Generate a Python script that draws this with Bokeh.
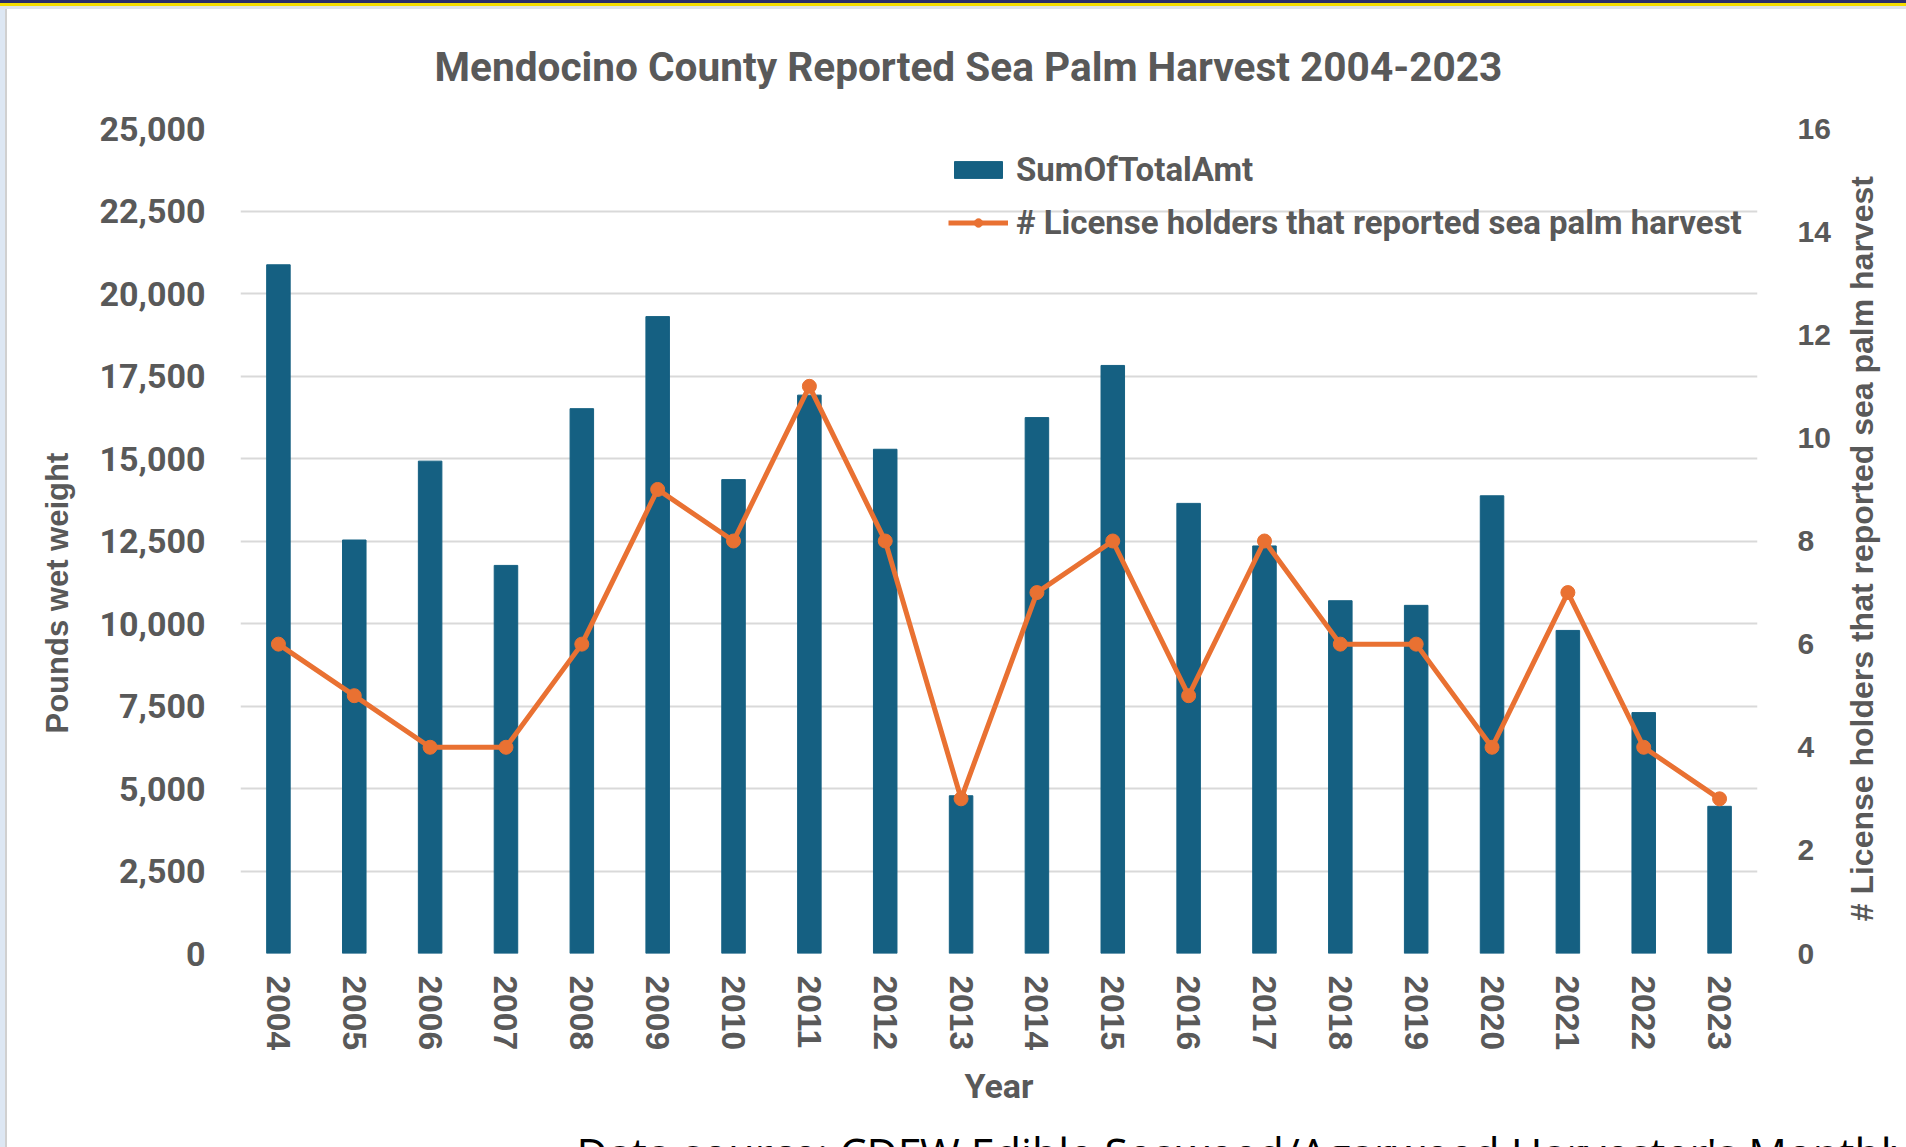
import math
from bokeh.plotting import figure
from bokeh.models import (ColumnDataSource, Range1d, FactorRange, LinearAxis, FixedTicker,
                          NumeralTickFormatter, Title)
from bokeh.embed import file_html
from bokeh.resources import INLINE

# Reported sea palm harvest, Mendocino County
years = ["2004", "2005", "2006", "2007", "2008", "2009", "2010", "2011", "2012", "2013",
         "2014", "2015", "2016", "2017", "2018", "2019", "2020", "2021", "2022", "2023"]
pounds = [20870, 12530, 14920, 11760, 16510, 19300, 14360, 16920, 15280, 4780,
          16240, 17820, 13640, 12350, 10690, 10550, 13870, 9790, 7300, 4460]
holders = [6, 5, 4, 4, 6, 9, 8, 11, 8, 3, 7, 8, 5, 8, 6, 6, 4, 7, 4, 3]
left_ticks = [0, 2500, 5000, 7500, 10000, 12500, 15000, 17500, 20000, 22500, 25000]
right_ticks = [0, 2, 4, 6, 8, 10, 12, 14, 16]

chart_title = "Mendocino County Reported Sea Palm Harvest 2004-2023"
left_title = "Pounds wet weight"
right_title = "# License holders that reported sea palm harvest"
source_note = "Data source: CDFW Edible Seaweed/Agarweed Harvester's Monthly Landing Logs"

BAR = "#156082"
ORANGE = "#E97132"
GREY = "#595959"
NARROW = "Roboto"
WIDE = "Liberation Sans"

src = ColumnDataSource(dict(year=years, pounds=pounds, holders=holders))

p = figure(x_range=FactorRange(*years), y_range=Range1d(0, 25000),
           frame_width=1517, frame_height=825, output_backend="svg", toolbar_location=None,
           min_border_left=240, min_border_right=149, min_border_top=128, min_border_bottom=0)
p.extra_y_ranges = {"holders": Range1d(0, 16)}
p.outline_line_color = None
p.background_fill_color = "white"
p.border_fill_alpha = 0
# slide frame: navy and yellow bands at the top, pale blue strip on the left;
# the page is cut at the window's height, like a screen capture of a slide
p.styles = {
    "height": "1147px",
    "overflow": "hidden",
    "background": ("linear-gradient(to bottom, #2b2e6b 0px, #2b2e6b 3px, #f5dd00 3px, #f5dd00 6px, "
                   "#dfe3ea 6px, #dfe3ea 9px, transparent 9px), "
                   "linear-gradient(to right, #dde7f3 0px, #dde7f3 5px, #d0d0d0 5px, #d0d0d0 7px, "
                   "white 7px)"),
}

p.vbar(x="year", top="pounds", width=0.31, color=BAR, source=src, legend_label="SumOfTotalAmt")
p.line(x="year", y="holders", y_range_name="holders", line_color=ORANGE, line_width=5,
       source=src, legend_label=right_title)
p.scatter(x="year", y="holders", y_range_name="holders", size=14, fill_color=ORANGE,
          line_color=ORANGE, source=src, legend_label=right_title)


def bare(axis):
    axis.axis_line_color = None
    axis.major_tick_line_color = None
    axis.minor_tick_line_color = None
    axis.major_tick_out = 0
    axis.minor_tick_out = 0


# chart title
p.title.text = chart_title
p.title.align = "left"
p.title.offset = 194
p.title.text_font = NARROW
p.title.text_font_style = "bold"
p.title.text_font_size = "40.6px"
p.title.text_color = GREY
p.title.standoff = 76

# left axis (pounds)
ya = p.yaxis[0]
ya.ticker = FixedTicker(ticks=left_ticks)
ya.formatter = NumeralTickFormatter(format="0,0")
ya.axis_line_color = None
ya.major_tick_line_color = None
ya.minor_tick_line_color = None
ya.major_label_text_font = NARROW
ya.major_label_text_font_style = "bold"
ya.major_label_text_font_size = "34px"
ya.major_label_text_color = GREY
ya.major_label_standoff = 29

p.add_layout(Title(text=left_title, align="left", offset=220, vertical_align="bottom",
                   standoff=44, text_font=WIDE, text_font_style="bold",
                   text_font_size="31px", text_color=GREY), "left")

p.ygrid.ticker = FixedTicker(ticks=left_ticks)
p.ygrid.grid_line_color = "#d9d9d9"
p.ygrid.grid_line_width = 2
p.xgrid.grid_line_color = None

# right axis (license holders)
ra = LinearAxis(y_range_name="holders", ticker=FixedTicker(ticks=right_ticks))
ra.axis_line_color = None
ra.major_tick_line_color = None
ra.minor_tick_line_color = None
ra.major_label_text_font = WIDE
ra.major_label_text_font_style = "bold"
ra.major_label_text_font_size = "30px"
ra.major_label_text_color = GREY
ra.major_label_standoff = 34
p.add_layout(ra, "right")

# right-hand title, reading upwards from near the foot of the axis
rt_pos = 0.625
rt = LinearAxis(y_range_name="holders", ticker=FixedTicker(ticks=[rt_pos]),
                major_label_overrides={rt_pos: right_title},
                major_label_orientation=math.pi / 2)
bare(rt)
rt.major_label_text_font = WIDE
rt.major_label_text_font_style = "bold"
rt.major_label_text_font_size = "32px"
rt.major_label_text_color = GREY
rt.major_label_standoff = 29
p.add_layout(rt, "right")

# x axis (years)
xa = p.xaxis[0]
xa.axis_line_color = None
xa.major_tick_line_color = None
xa.minor_tick_line_color = None
xa.major_label_orientation = "vertical"
xa.major_label_text_font = WIDE
xa.major_label_text_font_style = "bold"
xa.major_label_text_font_size = "33.5px"
xa.major_label_text_color = GREY
xa.major_label_standoff = 16
xa.axis_label = "Year"
xa.axis_label_text_font = NARROW
xa.axis_label_text_font_style = "bold"
xa.axis_label_text_font_size = "34px"
xa.axis_label_text_color = GREY
xa.axis_label_standoff = 13

# source note under the chart
p.add_layout(Title(text=source_note, align="left", offset=336, text_font="Open Sans",
                   text_font_style="normal", text_font_size="43px", text_color="black",
                   standoff=24), "below")

leg = p.legend[0]
leg.location = (708, 711)
leg.padding = 0
leg.margin = 0
leg.spacing = 14
leg.glyph_width = 60
leg.glyph_height = 21
leg.label_height = 35
leg.label_standoff = 8
leg.label_text_font = NARROW
leg.label_text_font_style = "bold"
leg.label_text_font_size = "33px"
leg.label_text_color = GREY
leg.background_fill_alpha = 0
leg.border_line_alpha = 0

open("out.html", "w").write(file_html(p, INLINE))
